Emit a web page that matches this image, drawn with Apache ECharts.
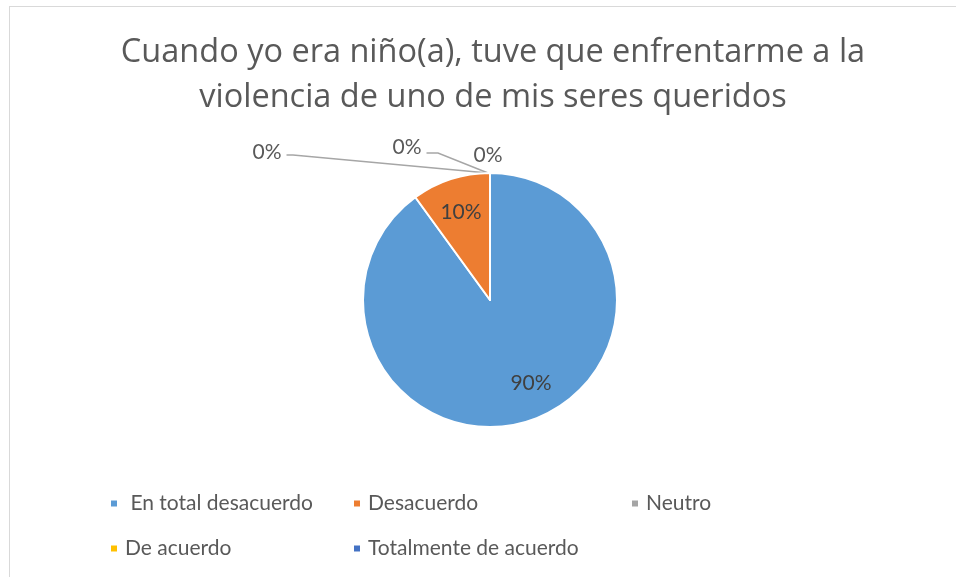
<!DOCTYPE html>
<html>
<head>
<meta charset="utf-8">
<script src="https://cdn.jsdelivr.net/npm/echarts@6/dist/echarts.min.js"></script>
<style>
  html, body { margin: 0; padding: 0; background: #fff; overflow: hidden; }
  #frame { position: absolute; left: 9px; top: 6px; width: 1000px; height: 1000px; border: 1px solid #d9d9d9; }
  #chart { position: absolute; left: 0; top: 0; width: 956px; height: 577px; }
</style>
</head>
<body>
<div id="frame"></div>
<div id="chart"></div>
<script>
// datos de la encuesta
const CATEGORIES = ['En total desacuerdo', 'Desacuerdo', 'Neutro', 'De acuerdo', 'Totalmente de acuerdo']
const VALUES = [90, 10, 0, 0, 0]
const COLORS = ['#5B9BD5', '#ED7D31', '#A5A5A5', '#FFC000', '#4472C4']
const TITLE = 'Cuando yo era niño(a), tuve que enfrentarme a la\nviolencia de uno de mis seres queridos'

const FONT = 'Lato, "Open Sans", sans-serif'
const TITLE_FONT = '"Open Sans", Lato, sans-serif'
const CENTER = [490, 300]
const RADIUS = 127

// posición de cada etiqueta (estilo Excel), relativa al centro del pastel
const LABEL_POS = [
  [41, 83],
  [-29, -88],
  [-223, -148],
  [-83, -153],
  [-2, -145],
]
// codo de las líneas guía, relativo al centro
const ELBOW = [null, null, [-197, -145], [-52, -147], null]

// leyendas: izquierda del marcador, y centro
const LEGEND_POS = [
  [109, 503], [352, 503], [630, 503],
  [109, 548], [352, 548],
]

const chart = echarts.init(document.getElementById('chart'))

const legends = CATEGORIES.map((name, i) => ({
  data: [name],
  left: LEGEND_POS[i][0],
  top: LEGEND_POS[i][1] - 10,
  padding: 0,
  icon: 'rect',
  itemWidth: 8,
  itemHeight: 8,
  selectedMode: false,
  formatter: i === 0 ? ' {name}' : '{name}',
  textStyle: { fontFamily: FONT, fontSize: 21, color: '#595959', padding: [0, 0, 0, 2] },
}))

chart.setOption({
  animation: false,
  color: COLORS,
  title: {
    text: TITLE,
    left: 488,
    top: 25,
    textAlign: 'center',
    textStyle: { fontFamily: TITLE_FONT, fontSize: 32.5, fontWeight: 'normal', color: '#595959', lineHeight: 45 },
  },
  legend: legends,
  series: [{
    type: 'pie',
    center: CENTER,
    radius: RADIUS,
    startAngle: 90,
    clockwise: true,
    avoidLabelOverlap: false,
    itemStyle: { borderColor: '#fff', borderWidth: 2 },
    label: {
      show: true,
      formatter: '{d}%',
      fontFamily: FONT,
      fontSize: 21,
      color: '#404040',
    },
    labelLine: { show: true, length: 10, length2: 10, lineStyle: { color: '#A6A6A6', width: 1.5 } },
    emphasis: { disabled: true },
    data: CATEGORIES.map((name, i) => ({
      name,
      value: VALUES[i],
      label: { position: i < 2 ? 'inside' : 'outside', color: i < 2 ? '#404040' : '#595959' },
      labelLine: { show: ELBOW[i] !== null },
    })),
    labelLayout: (params) => {
      const i = params.dataIndex
      const x = CENTER[0] + LABEL_POS[i][0]
      const y = CENTER[1] + LABEL_POS[i][1]
      const out = { x, y, align: 'center', verticalAlign: 'middle' }
      if (ELBOW[i]) {
        const top = [CENTER[0] - 2, CENTER[1] - RADIUS]
        const elbow = [CENTER[0] + ELBOW[i][0], CENTER[1] + ELBOW[i][1]]
        const end = [x + params.labelRect.width / 2 + 5, elbow[1]]
        out.labelLinePoints = [top, elbow, end]
      }
      return out
    },
  }],
})
</script>
</body>
</html>
